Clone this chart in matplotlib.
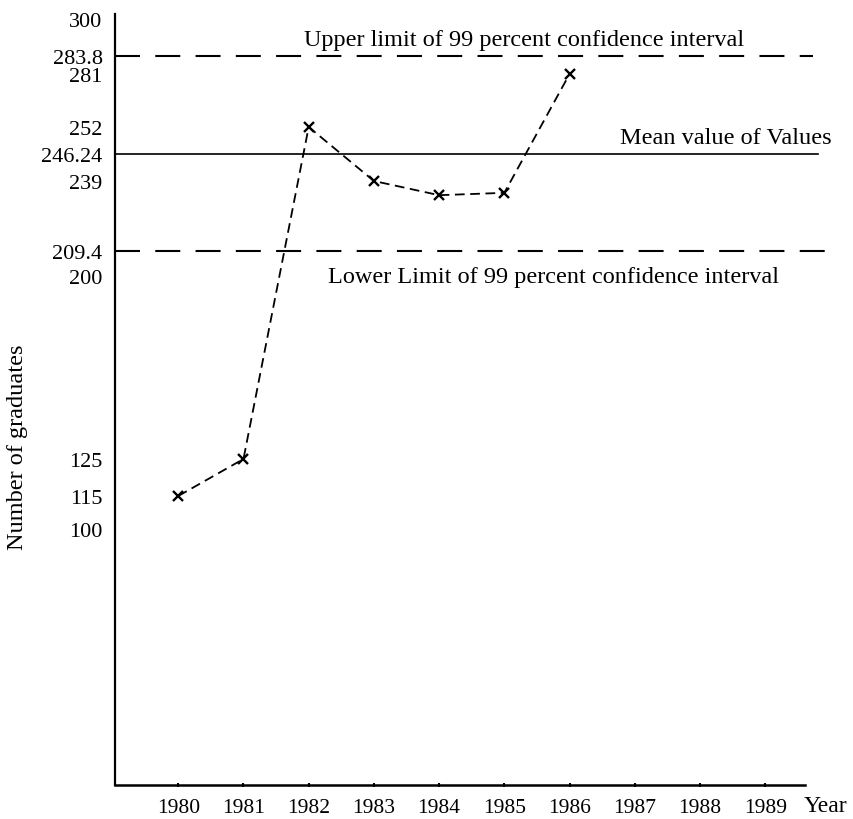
import numpy as np
import matplotlib
matplotlib.use('Agg')
import matplotlib.pyplot as plt

plt.rcParams['font.family'] = ['Liberation Serif', 'DejaVu Serif']
plt.rcParams['lines.scale_dashes'] = False

# data
years = [1980, 1981, 1982, 1983, 1984, 1985, 1986]
graduates = [115, 125, 252, 239, 233, 234, 281]
upper_limit = 283.8
mean_value = 246.24
lower_limit = 209.4
xtick_years = [1980, 1981, 1982, 1983, 1984, 1985, 1986, 1987, 1988, 1989]
ytick_values = [300, 283.8, 281, 252, 246.24, 239, 209.4, 200, 125, 115, 100]
ytick_labels = ['300', '283.8', '281', '252', '246.24', '239', '209.4', '200', '125', '115', '100']

# the original axis is hand drawn and not linear: value -> height above x axis (px)
scale_vals = [0, 100, 115, 125, 200, 209.4, 239, 246.24, 252, 281, 283.8, 300, 302]
scale_px = [0, 256, 289, 326, 509, 534, 604, 631, 658, 711, 729, 766, 771]


def fwd(v):
    return np.interp(v, scale_vals, scale_px)


def inv(h):
    return np.interp(h, scale_px, scale_vals)


W, H = 854, 820
fig = plt.figure(figsize=(W / 100, H / 100), dpi=100)
ax = fig.add_axes([115 / W, (H - 786) / H, 690 / W, 771 / H])
ax.set_yscale('function', functions=(fwd, inv))
ax.set_ylim(0, 302)
ax.set_xlim(1979.03, 1989.61)

for s in ['top', 'right']:
    ax.spines[s].set_visible(False)
ax.spines['left'].set_linewidth(1.6)
ax.spines['bottom'].set_linewidth(1.8)

# reference lines
ax.axhline(upper_limit, xmin=0, xmax=1.012, color='black', lw=1.5,
           dashes=(18, 11), clip_on=False)
ax.axhline(mean_value, xmin=0, xmax=1.019, color='black', lw=1.2, clip_on=False)
ax.axhline(lower_limit, xmin=0, xmax=1.029, color='black', lw=1.5,
           dashes=(18, 11), clip_on=False)

ax.annotate('Upper limit of 99 percent confidence interval', xy=(0.593, upper_limit),
            xycoords=('axes fraction', 'data'), xytext=(0, 12), textcoords='offset points',
            ha='center', va='center', fontsize=17.5, annotation_clip=False)
ax.annotate('Mean value of Values', xy=(0.8855, mean_value),
            xycoords=('axes fraction', 'data'), xytext=(0, 12), textcoords='offset points',
            ha='center', va='center', fontsize=17.5, annotation_clip=False)
ax.annotate('Lower Limit of 99 percent confidence interval', xy=(0.636, lower_limit),
            xycoords=('axes fraction', 'data'), xytext=(0, -18), textcoords='offset points',
            ha='center', va='center', fontsize=17.5, annotation_clip=False)

# the series
ax.plot(years, graduates, color='black', lw=1.3, dashes=(7, 4),
        marker='x', markersize=6.5, markeredgewidth=1.7)

ax.set_xticks(xtick_years)
ax.set_xticklabels([str(y) for y in xtick_years], fontsize=15.5)
ax.tick_params(axis='x', length=3, width=1.5, direction='inout', pad=8)
ax.set_yticks(ytick_values)
ax.set_yticklabels(ytick_labels, fontsize=16)
ax.yaxis.set_minor_locator(matplotlib.ticker.NullLocator())
ax.tick_params(axis='y', length=0, pad=9)

ax.set_xlabel('Year', fontsize=17)
ax.xaxis.set_label_coords(1.029, -0.013)
fig.text(18 / W, 1 - 447 / H, 'Number of graduates', rotation=90,
         ha='center', va='center', fontsize=17.5)

fig.savefig('out.png', dpi=100)
